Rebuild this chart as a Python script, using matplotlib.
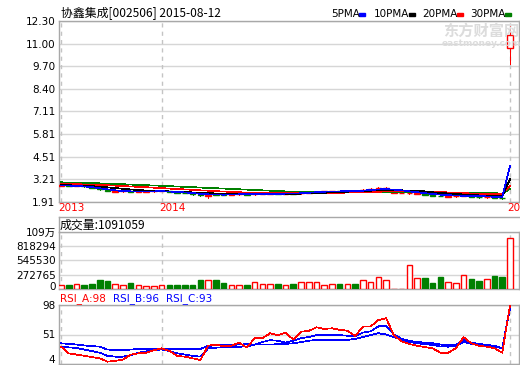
import numpy as np
import matplotlib
matplotlib.use('Agg')
import matplotlib.pyplot as plt
from matplotlib.patches import Rectangle
from matplotlib.lines import Line2D
import matplotlib.transforms as mtransforms

plt.rcParams['font.family'] = ['DejaVu Sans', 'Noto Sans CJK SC']

## values, one per bar
opens = [2.84, 2.88, 2.83, 2.86, 2.80, 2.74, 2.62, 2.51, 2.52, 2.54,
         2.50, 2.51, 2.52, 2.53, 2.54, 2.48, 2.45, 2.42, 2.36, 2.24,
         2.38, 2.35, 2.33, 2.36, 2.39, 2.35, 2.37, 2.39, 2.41, 2.38,
         2.41, 2.40, 2.43, 2.46, 2.50, 2.52, 2.55, 2.52, 2.56, 2.55,
         2.62, 2.68, 2.66, 2.44, 2.42, 2.40, 2.38, 2.40, 2.32, 2.28,
         2.20, 2.23, 2.26, 2.28, 2.22, 2.17, 2.21, 2.16, 10.76]
closes = [2.88, 2.84, 2.87, 2.80, 2.74, 2.64, 2.55, 2.53, 2.54, 2.50,
          2.52, 2.53, 2.54, 2.55, 2.48, 2.45, 2.42, 2.36, 2.30, 2.30,
          2.33, 2.31, 2.37, 2.39, 2.34, 2.38, 2.40, 2.41, 2.36, 2.41,
          2.39, 2.43, 2.46, 2.50, 2.53, 2.55, 2.52, 2.56, 2.53, 2.62,
          2.68, 2.72, 2.70, 2.45, 2.43, 2.42, 2.41, 2.32, 2.28, 2.25,
          2.24, 2.27, 2.30, 2.22, 2.18, 2.21, 2.16, 2.12, 11.49]
highs = [2.92, 2.90, 2.89, 2.87, 2.81, 2.75, 2.64, 2.56, 2.56, 2.55,
         2.54, 2.55, 2.56, 2.57, 2.55, 2.49, 2.46, 2.43, 2.37, 2.32,
         2.40, 2.37, 2.39, 2.41, 2.40, 2.40, 2.42, 2.43, 2.42, 2.43,
         2.42, 2.45, 2.55, 2.52, 2.55, 2.57, 2.56, 2.58, 2.57, 2.66,
         2.72, 2.75, 2.76, 2.46, 2.44, 2.44, 2.43, 2.41, 2.33, 2.30,
         2.26, 2.29, 2.32, 2.29, 2.23, 2.23, 2.22, 2.17, 12.01]
lows = [2.82, 2.82, 2.81, 2.78, 2.72, 2.62, 2.52, 2.49, 2.50, 2.48,
        2.48, 2.50, 2.51, 2.52, 2.47, 2.43, 2.40, 2.34, 2.28, 2.13,
        2.31, 2.29, 2.31, 2.34, 2.32, 2.33, 2.36, 2.38, 2.35, 2.37,
        2.37, 2.39, 2.42, 2.45, 2.49, 2.51, 2.50, 2.51, 2.51, 2.54,
        2.61, 2.66, 2.62, 2.43, 2.41, 2.39, 2.37, 2.30, 2.25, 2.23,
        2.17, 2.22, 2.25, 2.20, 2.16, 2.16, 2.14, 2.08, 9.85]

ma5 = [2.86, 2.85, 2.84, 2.80, 2.76, 2.70, 2.64, 2.58, 2.54, 2.52,
       2.52, 2.52, 2.52, 2.53, 2.51, 2.49, 2.46, 2.42, 2.38, 2.35,
       2.34, 2.33, 2.34, 2.35, 2.36, 2.37, 2.38, 2.39, 2.38, 2.39,
       2.39, 2.41, 2.44, 2.47, 2.50, 2.52, 2.52, 2.53, 2.54, 2.56,
       2.60, 2.63, 2.65, 2.62, 2.58, 2.52, 2.47, 2.42, 2.37, 2.33,
       2.30, 2.28, 2.27, 2.26, 2.25, 2.23, 2.21, 2.18, 3.98]
ma10 = [2.88, 2.87, 2.86, 2.84, 2.82, 2.79, 2.75, 2.71, 2.67, 2.63,
        2.60, 2.57, 2.54, 2.53, 2.52, 2.50, 2.48, 2.46, 2.44, 2.42,
        2.40, 2.39, 2.38, 2.37, 2.37, 2.37, 2.37, 2.37, 2.37, 2.38,
        2.38, 2.39, 2.40, 2.42, 2.44, 2.46, 2.48, 2.50, 2.52, 2.54,
        2.56, 2.58, 2.59, 2.59, 2.58, 2.57, 2.55, 2.52, 2.47, 2.43,
        2.40, 2.37, 2.34, 2.31, 2.29, 2.27, 2.26, 2.24, 3.22]
ma20 = [2.95, 2.94, 2.93, 2.92, 2.91, 2.89, 2.87, 2.85, 2.83, 2.80,
        2.78, 2.76, 2.73, 2.71, 2.68, 2.66, 2.63, 2.61, 2.58, 2.56,
        2.53, 2.51, 2.49, 2.47, 2.45, 2.44, 2.43, 2.43, 2.43, 2.42,
        2.42, 2.42, 2.42, 2.43, 2.43, 2.44, 2.44, 2.45, 2.46, 2.47,
        2.48, 2.50, 2.51, 2.52, 2.52, 2.52, 2.52, 2.51, 2.50, 2.48,
        2.46, 2.44, 2.42, 2.40, 2.39, 2.38, 2.37, 2.36, 2.83]
ma30 = [3.04, 3.03, 3.02, 3.01, 3.00, 2.98, 2.97, 2.95, 2.93, 2.91,
        2.89, 2.87, 2.86, 2.84, 2.82, 2.80, 2.78, 2.76, 2.74, 2.72,
        2.70, 2.68, 2.66, 2.64, 2.62, 2.60, 2.58, 2.56, 2.54, 2.52,
        2.50, 2.49, 2.48, 2.47, 2.47, 2.46, 2.46, 2.46, 2.45, 2.45,
        2.45, 2.45, 2.45, 2.45, 2.45, 2.45, 2.45, 2.45, 2.44, 2.44,
        2.44, 2.43, 2.43, 2.42, 2.42, 2.41, 2.41, 2.40, 2.66]

volume = [82000, 76000, 95000, 76000, 95000, 177000, 152000, 95000, 76000, 114000,
          76000, 57000, 57000, 76000, 76000, 82000, 76000, 76000, 171000, 171000,
          171000, 114000, 76000, 76000, 76000, 128000, 95000, 95000, 95000, 76000,
          95000, 133000, 133000, 133000, 76000, 95000, 95000, 95000, 95000, 166000,
          133000, 228000, 166000, 6000, 6000, 451000, 209000, 215000, 114000, 234000,
          128000, 109000, 261000, 196000, 152000, 190000, 248000, 228000, 965000]

rsi_a = [31.6, 21, 19, 17, 15, 13, 7.7, 9, 11, 19,
         21, 22, 26, 29, 25, 17, 15.7, 13, 10.4, 33,
         35, 32, 33, 38, 30, 45, 45, 52.9, 50, 54,
         43, 55.5, 56.6, 62.5, 59.8, 60.9, 58.5, 57, 48.6, 63.5,
         64, 74, 76.8, 50, 40, 35.9, 33, 31, 29, 22,
         22, 29, 46.5, 37, 33, 31.6, 29, 22, 98]
rsi_b = [31.6, 30.5, 29.5, 27, 24.5, 22, 17, 15.7, 15.7, 18,
         22, 24, 26.5, 27, 24.5, 21, 19, 17, 15.7, 29,
         30, 30.5, 31, 31.5, 32, 35, 39, 42, 41, 38,
         41, 45, 47, 50, 50, 50, 50, 49, 48, 54,
         56, 64, 65, 51, 44, 41, 39, 38, 37, 35,
         34, 34, 42, 38, 36, 34.5, 33, 29, 96]
rsi_c = [37, 36, 35, 33.5, 32.5, 31.6, 27, 26.3, 26.3, 27,
         28, 28, 28, 28, 28, 28, 28, 28, 28, 33,
         33.5, 34, 34.5, 35, 35.5, 35, 35, 35, 35.5, 36,
         37, 39, 41, 42.3, 42.3, 42.3, 42.3, 42.3, 44, 47,
         50, 53, 51, 47, 43, 39, 37, 35.5, 34.3, 32,
         31.6, 32, 39.6, 36, 34.3, 33, 32, 29, 93]

price_labels = ['1.91', '3.21', '4.51', '5.81', '7.11', '8.40', '9.70', '11.00', '12.30']
vol_labels = ['0', '272765', '545530', '818294', '109万']
rsi_labels = ['4', '51', '98']
year_labels = ['2013', '2014', '20']
year_pos = [0, 13, 58]

RED = '#ff0000'
GREEN = '#008000'
BLUE = '#0000ff'
GRID = '#d6d6d6'
FRAME = '#a8a8a8'
LW = 0.5  # thin, un-smoothed lines like the source chart
W, H = 520, 365


def rect(left, top, right, bottom):
    # pixel box -> figure fraction
    return [left / W, 1 - bottom / H, (right - left) / W, (bottom - top) / H]


def style(ax, lo, hi, ticks, labels):
    ax.set_xlim(-0.26, 59.16)
    ax.set_ylim(lo, hi)
    ax.set_xticks([])
    ax.set_yticks(ticks)
    ax.set_yticklabels(labels)
    ax.tick_params(axis='y', length=0, pad=2.5, labelsize=7.5)
    for s in ax.spines.values():
        s.set_color(FRAME)
        s.set_linewidth(1)
    for t in ticks:
        ax.axhline(t, color=GRID, lw=1, zorder=0)
    for p in year_pos:
        ax.axvline(p, color='#c4c4c4', lw=1, ls=(0, (3, 3)), zorder=0)


fig = plt.figure(figsize=(5.2, 3.65), dpi=100)
x = np.arange(len(closes))
up = [c >= o for o, c in zip(opens, closes)]


def lift(label, px):
    # nudge a bottom tick label up, as in the source chart
    label.set_transform(label.get_transform() +
                        mtransforms.ScaledTranslation(0, px / 100, fig.dpi_scale_trans))


# price panel
ax = fig.add_axes(rect(59, 21, 519, 202))
style(ax, 1.91, 12.30, np.linspace(1.91, 12.30, 9), price_labels)
for i in x:
    col = RED if up[i] else GREEN
    ax.vlines(i, lows[i], highs[i], color=col, lw=LW, zorder=2, antialiased=False)
    b = min(opens[i], closes[i])
    h = max(abs(closes[i] - opens[i]), 0.02)
    ax.add_patch(Rectangle((i - 0.36, b), 0.72, h, facecolor='white' if up[i] else GREEN,
                           edgecolor=col, lw=1, zorder=3))
ax.plot(x, ma30, color=GREEN, lw=LW, zorder=4, antialiased=False)
ax.plot(x, ma20, color=RED, lw=LW, zorder=4, antialiased=False)
ax.plot(x, ma10, color='black', lw=LW, zorder=4, antialiased=False)
ax.plot(x, ma5, color=BLUE, lw=LW, zorder=4, antialiased=False)
trans = mtransforms.blended_transform_factory(ax.transData, ax.transAxes)
for p, lab in zip(year_pos, year_labels):
    ax.text(p - 0.3, -0.035, lab, transform=trans, ha='left', va='center',
            color=RED, fontsize=7.5, clip_on=False)

# volume panel
axv = fig.add_axes(rect(59, 231.7, 519, 289))
style(axv, 0, 1091059, np.linspace(0, 1091059, 5), vol_labels)
axv.bar(x, volume, width=0.72, color=['white' if u else GREEN for u in up],
        edgecolor=[RED if u else GREEN for u in up], lw=1, zorder=3)
lift(axv.get_yticklabels()[0], 3)

# rsi panel
axr = fig.add_axes(rect(59, 305, 519, 364))
style(axr, 4, 98, [4, 51, 98], rsi_labels)
axr.plot(x, rsi_c, color=BLUE, lw=LW, zorder=3, antialiased=False)
axr.plot(x, rsi_b, color=BLUE, lw=LW, zorder=3, antialiased=False)
axr.plot(x, rsi_a, color=RED, lw=LW, zorder=4, antialiased=False)
lift(axr.get_yticklabels()[0], 5)

# separators above the volume strip
fig.add_artist(Line2D([59 / W, 519 / W], [1 - 217 / H] * 2, color=FRAME, lw=1))
fig.add_artist(Line2D([59 / W] * 2, [1 - 217 / H, 1 - 231.7 / H], color=FRAME, lw=1))

# headers
cjk = ['Noto Sans CJK SC', 'DejaVu Sans']
fig.text(61 / W, 1 - 14 / H, '协鑫集成[002506] 2015-08-12', family=cjk, fontsize=8.6, va='center')
fig.text(60 / W, 1 - 225 / H, '成交量:1091059', family=cjk, fontsize=8.6, va='center')
fig.text(60 / W, 1 - 299 / H, 'RSI_A:98', color=RED, fontsize=7.5, va='center')
fig.text(113 / W, 1 - 299 / H, 'RSI_B:96', color=BLUE, fontsize=7.5, va='center')
fig.text(166 / W, 1 - 299 / H, 'RSI_C:93', color=BLUE, fontsize=7.5, va='center')

# MA legend
legend = [('5PMA', 331, BLUE), ('10PMA', 374, 'black'), ('20PMA', 422, RED), ('30PMA', 470, GREEN)]
for name, px, col in legend:
    fig.text(px / W, 1 - 14 / H, name, fontsize=7.5, va='center')
    fig.patches.append(Rectangle(((px + 6.3 * len(name) + 3) / W, 1 - 15.5 / H), 6 / W, 3 / H,
                                 transform=fig.transFigure, color=col, figure=fig))

# watermark
fig.text(481 / W, 1 - 31 / H, '东方财富网', family=cjk, fontsize=11, fontweight='bold',
         color='#dcdcdc', ha='center', va='center', zorder=10)
fig.text(481 / W, 1 - 43 / H, 'eastmoney.com', fontsize=6.5, fontweight='bold',
         color='#dcdcdc', ha='center', va='center', zorder=10)

fig.savefig('out.png', dpi=100)
